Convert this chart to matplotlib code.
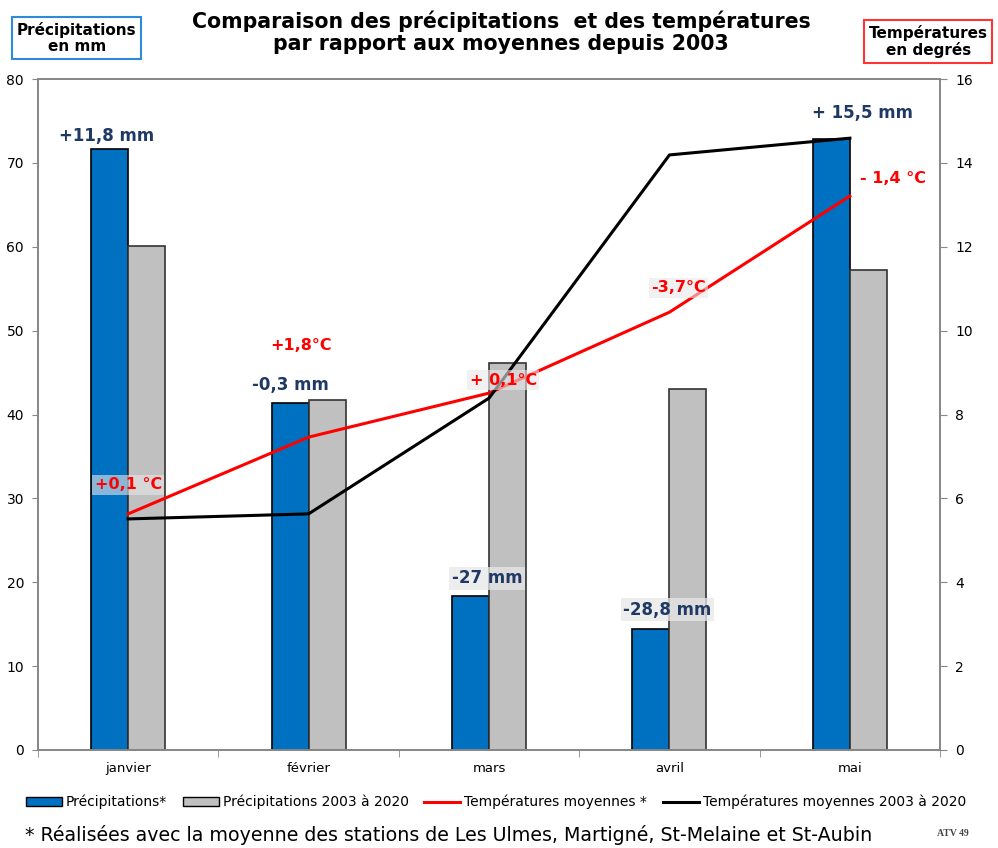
import matplotlib
matplotlib.use('Agg')
import matplotlib.pyplot as plt
from matplotlib.patches import Patch
from matplotlib.lines import Line2D

# data
mois = ['janvier', 'février', 'mars', 'avril', 'mai']
precip = [71.6, 41.4, 18.4, 14.4, 72.8]
precip_moy = [60.1, 41.7, 46.1, 43.0, 57.2]
temp = [5.63, 7.46, 8.51, 10.44, 13.21]
temp_moy = [5.51, 5.63, 8.39, 14.19, 14.59]

ecarts_mm = ['+11,8 mm', '-0,3 mm', '-27 mm', '-28,8 mm', '+ 15,5 mm']
ecarts_temp = ['+0,1 °C', '+1,8°C', '+ 0,1°C', '-3,7°C', '- 1,4 °C']

BLEU = '#0070C0'
GRIS = '#C0C0C0'
BLEU_TXT = '#1F3864'
ROUGE = '#FF0000'
AXE = '#868686'

plt.rcParams['font.family'] = ['DejaVu Sans']

fig = plt.figure(figsize=(9.98, 8.48), dpi=100)
ax = fig.add_axes([0.038, 0.1156, 0.904, 0.7912])
ax2 = ax.twinx()

x = list(range(len(mois)))
w = 0.205
ax.bar([i - w / 2 for i in x], precip, w, color=BLEU, edgecolor='black', linewidth=1.2, zorder=2)
ax.bar([i + w / 2 for i in x], precip_moy, w, color=GRIS, edgecolor='#333333', linewidth=1.2, zorder=2)

ax2.plot(x, temp, color=ROUGE, lw=2.2, zorder=3)
ax2.plot(x, temp_moy, color='black', lw=2.2, zorder=3)

ax.set_xlim(-0.5, 4.5)
ax.set_ylim(0, 80)
ax.set_yticks(range(0, 81, 10))
ax2.set_ylim(0, 16)
ax2.set_yticks(range(0, 17, 2))
ax.set_xticks(x)
ax.set_xticklabels(mois, fontsize=9.5)
ax.set_xticks([i + 0.5 for i in range(-1, 5)], minor=True)
ax.tick_params(axis='x', which='major', length=0, pad=9)
ax.tick_params(axis='x', which='minor', length=5, color=AXE, direction='out')
ax.tick_params(axis='y', length=4, color=AXE, labelsize=10, direction='out', pad=6)
ax2.tick_params(axis='y', length=5, color=AXE, labelsize=10, direction='out', pad=6)
for a in (ax, ax2):
    for s in a.spines.values():
        s.set_color(AXE)
        s.set_linewidth(1.2)

# ecarts sur les precipitations (position en x categorie, y en mm)
pos_mm = [(-0.12, 73.2), (0.90, 43.5), (1.99, 20.5), (2.99, 16.7), (4.07, 75.9)]
box_mm = [False, False, True, True, False]
for (px, py), t, b in zip(pos_mm, ecarts_mm, box_mm):
    bb = dict(boxstyle='square,pad=0.15', fc='#E8E8E8', ec='none', alpha=0.75) if b else None
    ax2.text(px, py / 5, t, ha='center', va='center', fontsize=12, fontweight='bold',
             color=BLEU_TXT, bbox=bb, zorder=5)

pos_temp = [(0.0, 31.6), (0.96, 48.2), (2.08, 44.1), (3.05, 55.1), (4.24, 68.1)]
box_temp = [True, False, True, True, False]
for (px, py), t, b in zip(pos_temp, ecarts_temp, box_temp):
    bb = dict(boxstyle='square,pad=0.15', fc='#E8E8E8', ec='none', alpha=0.6) if b else None
    ax2.text(px, py / 5, t, ha='center', va='center', fontsize=11.5, fontweight='bold',
             color=ROUGE, bbox=bb, zorder=5)

# titre
fig.text(0.502, 0.988, 'Comparaison des précipitations  et des températures\npar rapport aux moyennes depuis 2003',
         ha='center', va='top', fontsize=14.8, fontweight='bold', linespacing=1.12)

fig.text(0.077, 0.955, 'Précipitations\nen mm', ha='center', va='center', fontsize=11,
         fontweight='bold', linespacing=1.1,
         bbox=dict(boxstyle='square,pad=0.3', fc='white', ec='#2E8BD9', lw=1.5))
fig.text(0.93, 0.951, 'Températures\nen degrés', ha='center', va='center', fontsize=11,
         fontweight='bold', linespacing=1.1,
         bbox=dict(boxstyle='square,pad=0.3', fc='white', ec='#FF3333', lw=1.5))

# legende
handles = [Patch(fc=BLEU, ec='black', label='Précipitations*'),
           Patch(fc=GRIS, ec='black', label='Précipitations 2003 à 2020'),
           Line2D([], [], color=ROUGE, lw=2.2, label='Températures moyennes *'),
           Line2D([], [], color='black', lw=2.2, label='Températures moyennes 2003 à 2020')]
fig.legend(handles=handles, loc='center', bbox_to_anchor=(0.497, 0.054), ncol=4, frameon=False,
           prop={'size': 10}, handlelength=2.6, handleheight=0.6, handletextpad=0.3,
           columnspacing=1.1)

fig.text(0.025, 0.003, '* Réalisées avec la moyenne des stations de Les Ulmes, Martigné, St-Melaine et St-Aubin',
         ha='left', va='bottom', fontsize=13.7)
fig.text(0.955, 0.012, 'ATV 49', ha='center', va='bottom', fontsize=7, fontweight='bold',
         family=['Liberation Serif', 'DejaVu Serif'], color='#444444')

fig.savefig('out.png', dpi=100)
